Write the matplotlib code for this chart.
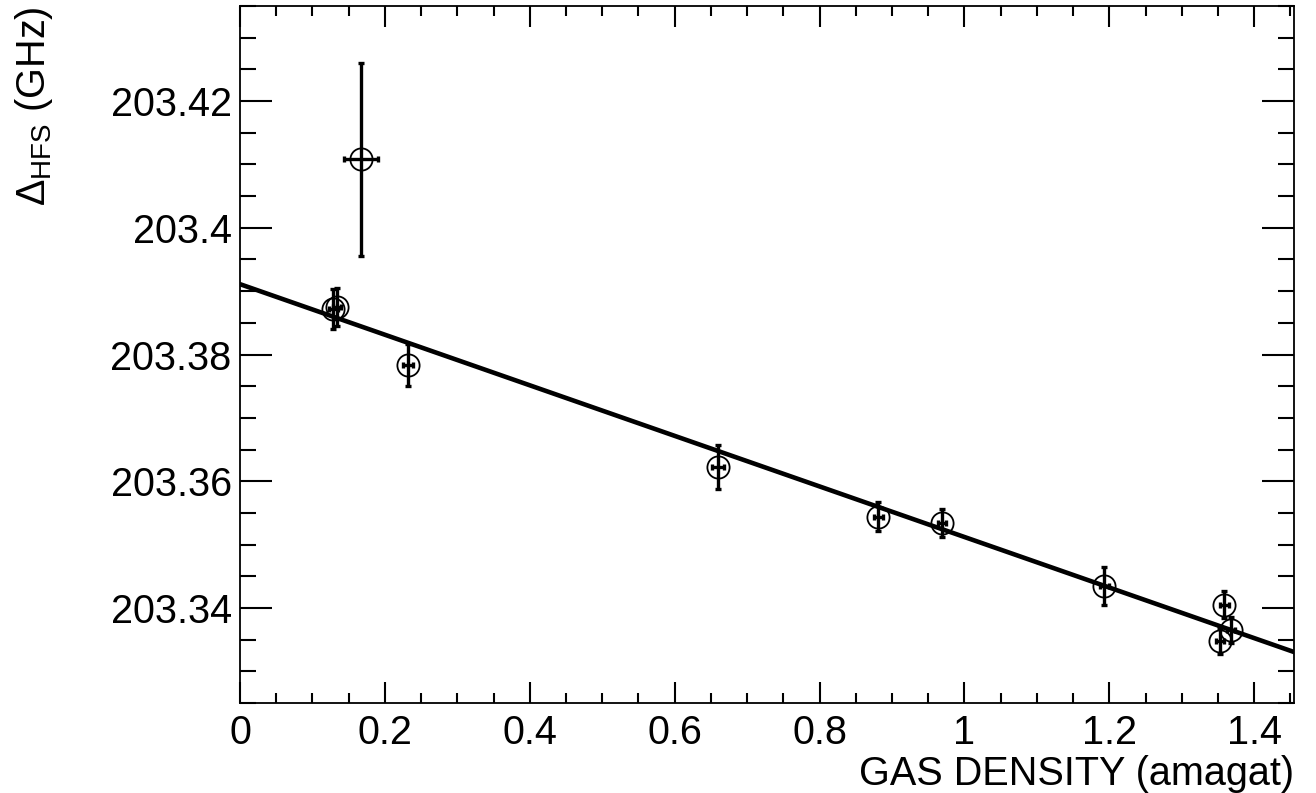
import numpy as np
import matplotlib
matplotlib.use('agg')
import matplotlib.pyplot as plt
from matplotlib.ticker import MultipleLocator

plt.rcParams['font.family'] = ['Liberation Sans', 'DejaVu Sans']
plt.rcParams['mathtext.fontset'] = 'custom'
plt.rcParams['mathtext.rm'] = 'Liberation Sans'
plt.rcParams['mathtext.it'] = 'Liberation Sans'

# measured points (gas density in amagat, hyperfine splitting in GHz)
density = [0.129, 0.134, 0.167, 0.232, 0.660, 0.881, 0.969, 1.193, 1.359, 1.368, 1.353]
delta_hfs = [203.3872, 203.3875, 203.4108, 203.3783, 203.3622, 203.3544, 203.3534,
             203.3435, 203.3405, 203.3365, 203.3348]
density_err = [0.006, 0.006, 0.023, 0.007, 0.008, 0.006, 0.006, 0.006, 0.006, 0.006, 0.006]
delta_err = [0.0032, 0.0030, 0.0152, 0.0033, 0.0035, 0.0023, 0.0022, 0.0030, 0.0021, 0.0020, 0.0021]

# linear fit shown in the figure
fit_intercept = 203.3911
fit_slope = -0.0399

fig = plt.figure(figsize=(13.16, 7.93), dpi=100)
ax = fig.add_axes([0.1824, 0.1135, 0.8009, 0.8789])

xs = np.array([0.0, 1.455])
ax.plot(xs, fit_intercept + fit_slope * xs, color='black', lw=3.3, zorder=2)

ax.errorbar(density, delta_hfs, xerr=density_err, yerr=delta_err, fmt='none',
            ecolor='black', elinewidth=2.4, capsize=2.5, capthick=2.4, zorder=3)
ax.plot(density, delta_hfs, 'o', mfc='none', mec='black', ms=16, mew=1.3, zorder=4)

ax.set_xlim(0, 1.455)
ax.set_ylim(203.325, 203.435)
ax.xaxis.set_minor_locator(MultipleLocator(0.05))
ax.yaxis.set_minor_locator(MultipleLocator(0.005))
ax.set_xticks([0, 0.2, 0.4, 0.6, 0.8, 1.0, 1.2, 1.4])
ax.set_xticklabels(['0', '0.2', '0.4', '0.6', '0.8', '1', '1.2', '1.4'])
ax.set_yticks([203.34, 203.36, 203.38, 203.4, 203.42])
ax.set_yticklabels(['203.34', '203.36', '203.38', '203.4', '203.42'])

ax.tick_params(axis='both', which='both', direction='in', top=True, right=True,
               width=1.5, labelsize=28.5)
ax.tick_params(axis='x', which='major', length=15, pad=8)
ax.tick_params(axis='x', which='minor', length=7.5)
ax.tick_params(axis='y', which='major', length=23, pad=6)
ax.tick_params(axis='y', which='minor', length=11.5)
for sp in ax.spines.values():
    sp.set_linewidth(1.3)

ax.set_xlabel('GAS DENSITY (amagat)', fontsize=28.5, loc='right', labelpad=2)
ax.set_ylabel(r'$\Delta_{\mathrm{HFS}}$ (GHz)', fontsize=28.5, loc='top', labelpad=40)

fig.savefig('out.png', dpi=100)
